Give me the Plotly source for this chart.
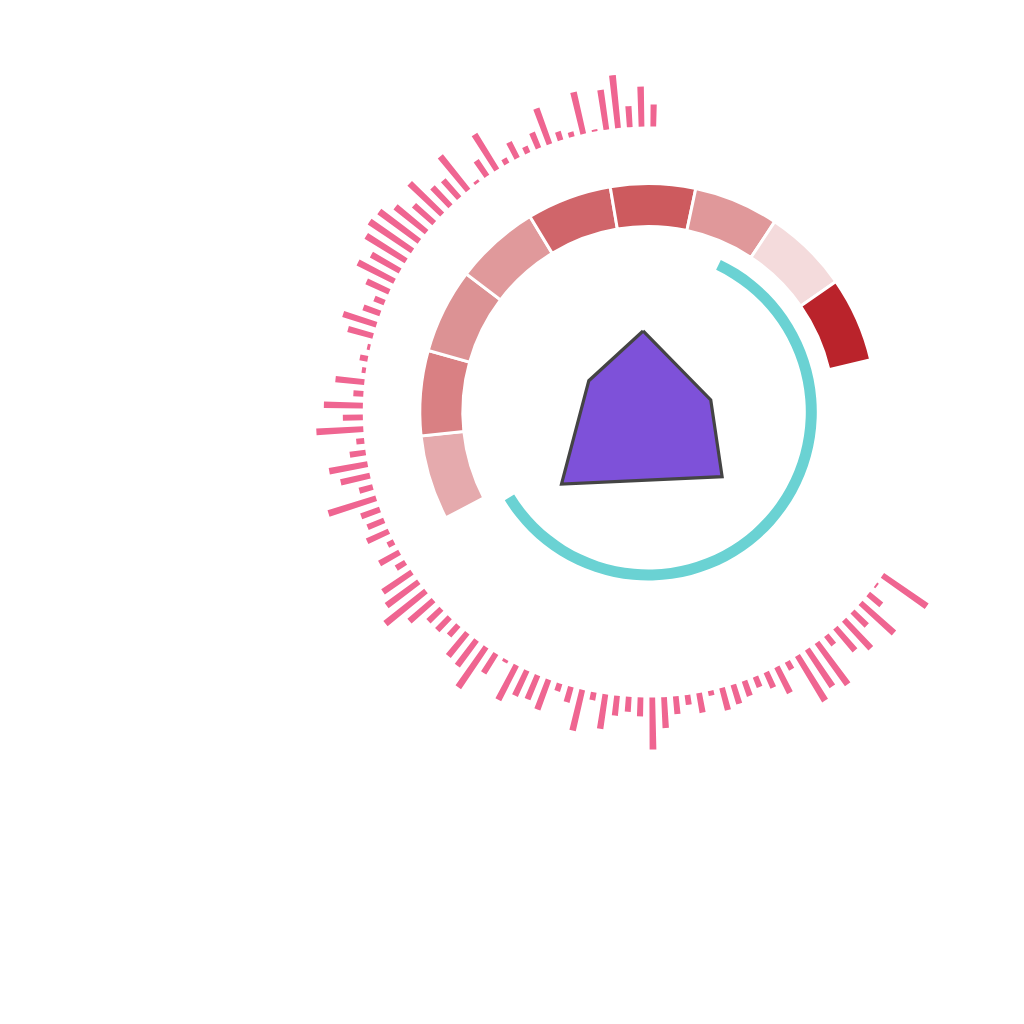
import numpy as np
import plotly.graph_objects as go

# ---- data ----
# outer ring: 101 radial bars (clockwise from lower-right to top)
spike_values = [54, 2, 17, 45, 20, 39, 30, 12, 52, 45, 53, 9, 29, 17, 11, 16, 20, 23, 5, 20,
                10, 18, 31, 52, 19, 15, 20, 35, 8, 42, 16, 8, 32, 26, 28, 39, 3, 23, 49, 32,
                30, 14, 18, 18, 32, 52, 40, 35, 11, 23, 7, 24, 18, 20, 50, 14, 30, 39, 16, 8,
                47, 20, 39, 10, 29, 4, 8, 3, 26, 35, 18, 11, 25, 41, 33, 47, 52, 50, 40, 27,
                45, 26, 24, 44, 3, 19, 42, 6, 18, 7, 17, 38, 9, 5, 43, 2, 40, 53, 21, 40, 22]
spike_start_deg = 124.9
spike_step_deg = 2.361

# middle ring: 9 segments
seg_colors = ["#E5AAAD", "#D98083", "#DC9294", "#E0999B", "#D0656A",
              "#CD5A5E", "#E0989A", "#F4DBDC", "#BA232B"]
seg_start_deg = 242.4
seg_width_deg = 21.6

# inner arc
arc_start_deg = 25.5
arc_end_deg = 238.4

# central polygon (radar)
poly_theta = [356.3, 79.1, 131.2, 230.3, 297.75]
poly_r = [81.2, 63.6, 98.1, 112.8, 67.2]

# ---- figure ----
fig = go.Figure()

spike_theta = [(spike_start_deg + i * spike_step_deg) % 360 for i in range(len(spike_values))]
fig.add_trace(go.Barpolar(
    theta=spike_theta, r=spike_values, base=285.5, width=1.15,
    marker=dict(color="#EF6591", line=dict(width=0)),
    hoverinfo="skip", showlegend=False))

seg_theta = [(seg_start_deg + seg_width_deg * (i + 0.5)) % 360 for i in range(len(seg_colors))]
fig.add_trace(go.Barpolar(
    theta=seg_theta, r=[43] * len(seg_colors), base=185.5, width=seg_width_deg,
    marker=dict(color=seg_colors, line=dict(color="white", width=3)),
    hoverinfo="skip", showlegend=False))

fig.add_trace(go.Barpolar(
    theta=[(arc_start_deg + arc_end_deg) / 2], r=[11], base=157.5,
    width=[arc_end_deg - arc_start_deg],
    marker=dict(color="#6AD2D3", line=dict(width=0)),
    hoverinfo="skip", showlegend=False))

fig.add_trace(go.Scatterpolar(
    theta=poly_theta + poly_theta[:1], r=poly_r + poly_r[:1],
    mode="lines", fill="toself", fillcolor="#7E51D9",
    line=dict(color="#444444", width=3.2),
    hoverinfo="skip", showlegend=False))

cx, cy, R = 648.3, 412.0, 340.0
fig.update_layout(
    width=1024, height=1024,
    margin=dict(l=0, r=0, t=0, b=0),
    paper_bgcolor="white",
    polar=dict(
        domain=dict(x=[(cx - R) / 1024, (cx + R) / 1024],
                    y=[(1024 - cy - R) / 1024, (1024 - cy + R) / 1024]),
        bgcolor="white",
        bargap=0,
        radialaxis=dict(range=[0, R], visible=False, showgrid=False),
        angularaxis=dict(rotation=90, direction="clockwise", visible=False,
                         showgrid=False, showline=False, ticks=""),
    ),
)

fig.write_html("out.html")
